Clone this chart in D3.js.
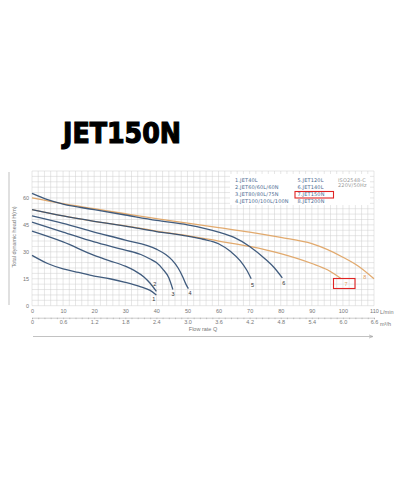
<!DOCTYPE html>
<html>
<head>
<meta charset="utf-8">
<title>JET150N</title>
<script src="https://d3js.org/d3.v7.min.js"></script>
<style>
  body { margin: 0; background: #fff; }
  svg { display: block; }
</style>
</head>
<body>
<div id="chart"></div>
<script>
// pump curves: flow rate (L/min) and head (m)
var jet40_q = [0, 5, 10, 15, 20, 25, 30, 35, 38, 40];
var jet40_h = [28, 23.5, 20.5, 18.5, 16.5, 15, 13, 10.5, 8.5, 6];
var jet60_q = [0, 10, 20, 25, 30, 33, 36, 38, 40];
var jet60_h = [41.5, 35.5, 28, 25, 22, 19.5, 16, 12.5, 8];
var jet80_q = [0, 10, 20, 30, 35, 38, 40, 42, 44, 45.3];
var jet80_h = [46.5, 41, 35.5, 31, 28.5, 26, 24, 20.5, 15.5, 9];
var jet100_q = [0, 10, 20, 30, 40, 43, 45, 47, 48.5, 49.5, 50.3];
var jet100_h = [50, 45.8, 41, 36.5, 31.5, 28.5, 25.5, 21, 16, 12, 9.5];
var jet120_q = [0, 10, 20, 30, 40, 50, 55, 60, 64, 67, 69, 70.5];
var jet120_h = [53.5, 50, 47, 44.3, 41.3, 38.7, 37, 34.5, 30, 25, 20, 15];
var jet140_q = [0, 5, 10, 20, 30, 40, 50, 60, 65, 70, 75, 78, 80.5];
var jet140_h = [62.5, 59, 56.5, 53.5, 50.5, 47.5, 45, 41, 38, 33, 26, 21, 15.5];
var jet150_q = [0, 10, 20, 30, 40, 50, 60, 70, 80, 90, 95, 99.5];
var jet150_h = [53.5, 50, 47, 44.5, 41.5, 39, 36, 33, 29, 23.5, 20, 15];
var jet200_q = [0, 10, 20, 30, 40, 50, 60, 70, 80, 90, 100, 105, 110];
var jet200_h = [60, 56.8, 54, 51.2, 48.5, 46, 43.5, 41, 38, 34.5, 27, 22, 15];

var names = ["1.JET40L", "2.JET60/60L/60N", "3.JET80/80L/75N", "4.JET100/100L/100N",
             "5.JET120L", "6.JET140L", "7.JET150N", "8.JET200N"];
var curveIds = ["1", "2", "3", "4", "5", "6", "7", "8"];
var labelQ = [39.2, 39.5, 45.4, 50.8, 70.9, 81, 101, 107];
var labelH = [3.7, 12, 6.5, 7, 11.8, 12.4, 12, 15.9];

var lpmTicks = [0, 10, 20, 30, 40, 50, 60, 70, 80, 90, 100, 110];
var m3hTicks = [0, 0.6, 1.2, 1.8, 2.4, 3.0, 3.6, 4.2, 4.8, 5.4, 6.0, 6.6];
var headTicks = [0, 15, 30, 45, 60];

var blue = "#2c4a70", orange = "#dfa15e", grey = "#777";

var svg = d3.select("#chart").append("svg")
    .attr("width", 400)
    .attr("height", 500);

var x = d3.scaleLinear().domain([0, 110]).range([32, 374]);
var xm = d3.scaleLinear().domain([0, 6.6]).range([32, 374]);
var y = d3.scaleLinear().domain([0, 75]).range([305.7, 171]);

// title
svg.append("text")
    .attr("x", 63).attr("y", 143)
    .attr("font-family", "DejaVu Sans").attr("font-weight", "bold")
    .attr("font-size", 28)
    .attr("stroke", "#000").attr("stroke-width", 1.2)
    .attr("textLength", 118).attr("lengthAdjust", "spacingAndGlyphs")
    .text("JET150N");

// grid
var grid = svg.append("g").attr("stroke", "#cfcfcf").attr("stroke-width", 0.5);
grid.selectAll(".v").data(d3.range(0, 111, 2)).enter().append("line")
    .attr("x1", d => x(d)).attr("x2", d => x(d))
    .attr("y1", y(0)).attr("y2", y(75));
grid.selectAll(".h").data(d3.range(0, 76, 3)).enter().append("line")
    .attr("x1", x(0)).attr("x2", x(110))
    .attr("y1", d => y(d)).attr("y2", d => y(d));

// legend box over the grid
svg.append("rect")
    .attr("x", 230).attr("y", 174).attr("width", 140).attr("height", 31)
    .attr("fill", "#fff");

var legend = svg.append("g")
    .attr("font-family", "DejaVu Sans").attr("font-size", 5)
    .attr("fill", "#4d6b92").attr("letter-spacing", 0.15);
names.forEach(function(n, i) {
    legend.append("text")
        .attr("x", i < 4 ? 235 : 297.5)
        .attr("y", 181.5 + (i % 4) * 7.3)
        .text(n);
});
legend.append("text").attr("x", 338).attr("y", 181.5).attr("fill", "#999").text("ISO2548-C");
legend.append("text").attr("x", 338).attr("y", 187).attr("fill", "#999").text("220V/50Hz");
svg.append("rect")
    .attr("x", 295).attr("y", 191.5).attr("width", 38.5).attr("height", 6.5)
    .attr("fill", "none").attr("stroke", "#e02424").attr("stroke-width", 1.1);

// axes
var yAxis = svg.append("g")
    .attr("transform", "translate(30,0)")
    .call(d3.axisLeft(y).tickValues(headTicks).tickSize(0).tickPadding(1));
var xAxis = svg.append("g")
    .attr("transform", `translate(0,${y(0) + 2})`)
    .call(d3.axisBottom(x).tickValues(lpmTicks).tickSize(0).tickPadding(1));
var mAxis = svg.append("g")
    .attr("transform", "translate(0,317.7)")
    .call(d3.axisBottom(xm).tickValues(d3.range(0, 6.61, 0.12)).tickSize(1.5).tickFormat(""));
var mLabels = svg.append("g")
    .attr("transform", "translate(0,319)")
    .call(d3.axisBottom(xm).tickValues(m3hTicks).tickSize(0).tickPadding(1)
        .tickFormat(d => d === 0 ? "0" : d3.format(".1f")(d)));
[yAxis, xAxis, mLabels].forEach(function(a) { a.select(".domain").remove(); });
[yAxis, xAxis, mAxis, mLabels].forEach(function(a) {
    a.selectAll("text").attr("font-family", "Liberation Sans").attr("font-size", 5.5).attr("fill", grey);
    a.selectAll("line, path").attr("stroke", "#999").attr("stroke-width", 0.5);
});

svg.append("text").attr("x", 380).attr("y", 314).attr("font-family", "Liberation Sans")
    .attr("font-size", 5.5).attr("fill", grey).text("L/min");
svg.append("text").attr("x", 380).attr("y", 326).attr("font-family", "Liberation Sans")
    .attr("font-size", 5.5).attr("fill", grey).text("m³/h");

// y axis title and line
svg.append("line").attr("x1", 9).attr("x2", 9).attr("y1", 172).attr("y2", 305)
    .attr("stroke", "#999").attr("stroke-width", 0.6);
svg.append("text")
    .attr("transform", "translate(16,237) rotate(-90)")
    .attr("text-anchor", "middle")
    .attr("font-family", "Liberation Sans").attr("font-size", 5.5).attr("fill", grey)
    .text("Total dynamic head H(m)");

// flow rate arrow
svg.append("text").attr("x", 203).attr("y", 331).attr("text-anchor", "middle")
    .attr("font-family", "Liberation Sans").attr("font-size", 5.5).attr("fill", grey)
    .text("Flow rate Q");
svg.append("line").attr("x1", 33).attr("x2", 372).attr("y1", 336.5).attr("y2", 336.5)
    .attr("stroke", "#999").attr("stroke-width", 0.6);
svg.append("path").attr("d", "M369,335 L373,336.5 L369,338").attr("fill", "none")
    .attr("stroke", "#999").attr("stroke-width", 0.6);

// curves
var line = d3.line()
    .x(d => x(d[0]))
    .y(d => y(d[1]))
    .curve(d3.curveMonotoneX);

function pack(q, h) { return q.map((v, i) => [v, h[i]]); }

var curves = [
    { pts: pack(jet200_q, jet200_h), color: orange },
    { pts: pack(jet150_q, jet150_h), color: orange },
    { pts: pack(jet40_q, jet40_h), color: blue },
    { pts: pack(jet60_q, jet60_h), color: blue },
    { pts: pack(jet80_q, jet80_h), color: blue },
    { pts: pack(jet100_q, jet100_h), color: blue },
    { pts: pack(jet120_q, jet120_h), color: blue },
    { pts: pack(jet140_q, jet140_h), color: blue }
];
svg.append("g").selectAll("path").data(curves).enter().append("path")
    .attr("d", d => line(d.pts))
    .attr("fill", "none")
    .attr("stroke", d => d.color)
    .attr("stroke-width", 1.3)
    .attr("stroke-opacity", 0.9);

// curve numbers
svg.append("g").selectAll("text").data(curveIds).enter().append("text")
    .attr("x", (d, i) => x(labelQ[i]))
    .attr("y", (d, i) => y(labelH[i]) + 2)
    .attr("text-anchor", "middle")
    .attr("font-family", "Liberation Sans").attr("font-size", 5.5)
    .attr("fill", (d, i) => i >= 6 ? orange : "#333")
    .text(d => d);

// red box around curve 7 label
svg.append("rect")
    .attr("x", 333.5).attr("y", 278.5).attr("width", 21.5).attr("height", 10)
    .attr("fill", "none").attr("stroke", "#e02424").attr("stroke-width", 1.1);
</script>
</body>
</html>
